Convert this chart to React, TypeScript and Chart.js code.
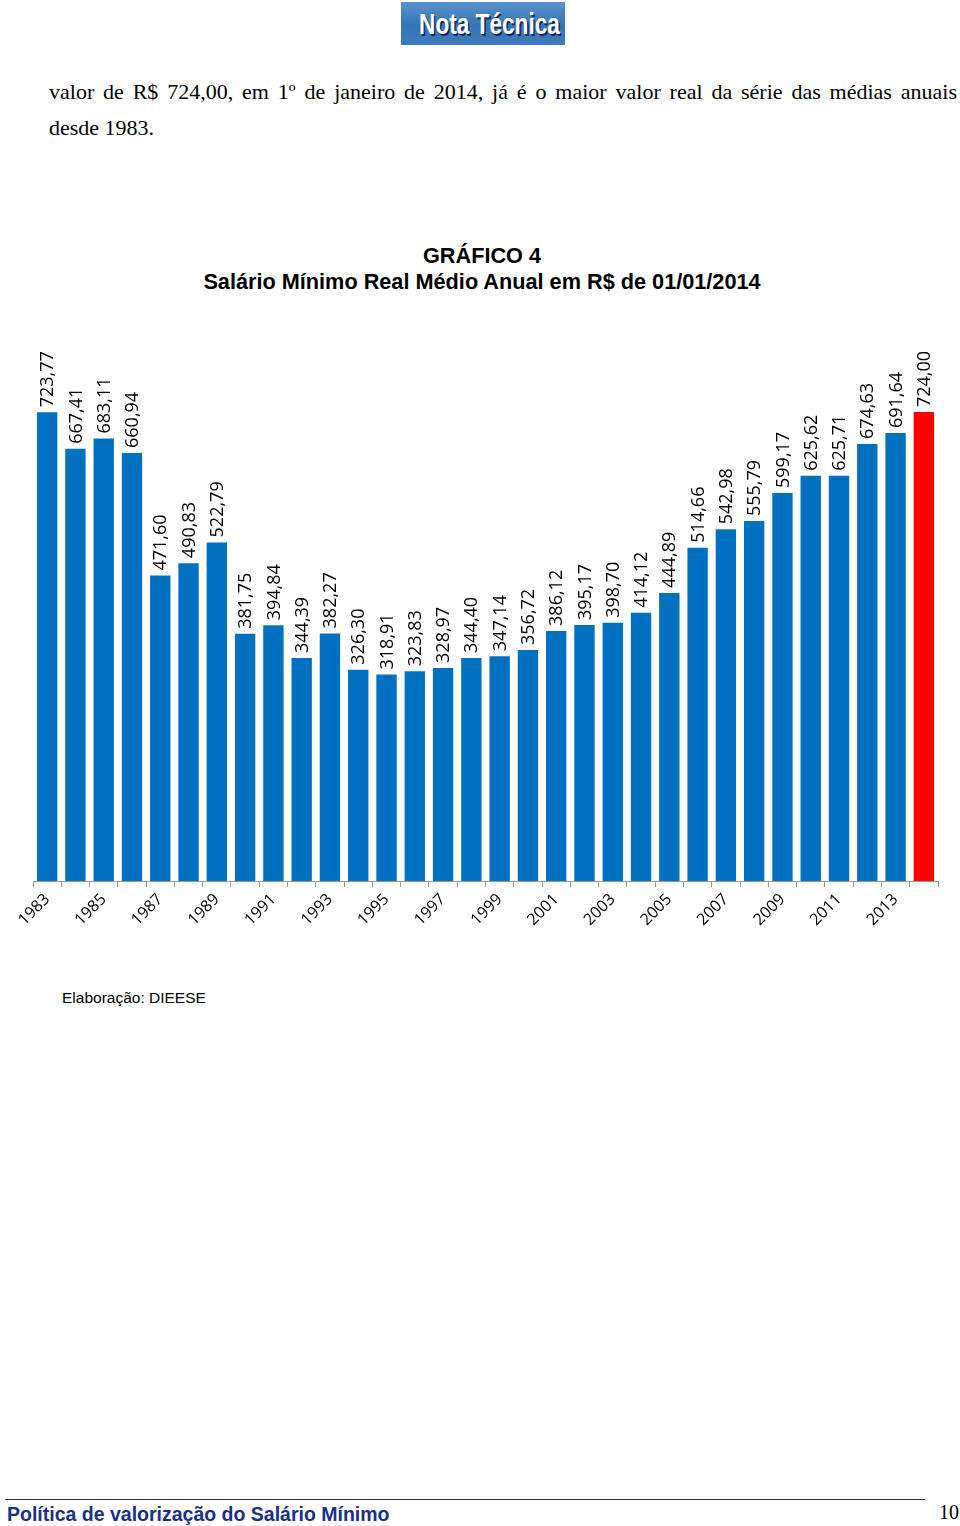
import React, { useEffect, useRef } from "react";
import { Chart, registerables } from "chart.js";

Chart.register(...registerables);

const years: string[] = [
  "1983", "1984", "1985", "1986", "1987", "1988", "1989", "1990",
  "1991", "1992", "1993", "1994", "1995", "1996", "1997", "1998",
  "1999", "2000", "2001", "2002", "2003", "2004", "2005", "2006",
  "2007", "2008", "2009", "2010", "2011", "2012", "2013", "2014",
];

const salaries: number[] = [
  723.77, 667.41, 683.11, 660.94, 471.6, 490.83, 522.79, 381.75,
  394.84, 344.39, 382.27, 326.3, 318.91, 323.83, 328.97, 344.4,
  347.14, 356.72, 386.12, 395.17, 398.7, 414.12, 444.89, 514.66,
  542.98, 555.79, 599.17, 625.62, 625.71, 674.63, 691.64, 724.0,
];

const BLUE = "#0070C0";
const RED = "#FF0000";

const fmt = (v: number) => v.toFixed(2).replace(".", ",");

const labelPlugin = {
  id: "barLabels",
  afterDatasetsDraw(chart: any) {
    const ctx = chart.ctx;
    const meta = chart.getDatasetMeta(0);
    ctx.save();
    ctx.fillStyle = "#000";
    ctx.font = "18px 'Open Sans'";
    ctx.textAlign = "left";
    ctx.textBaseline = "middle";
    meta.data.forEach((bar: any, i: number) => {
      ctx.save();
      ctx.translate(bar.x + 1, bar.y - 5);
      ctx.rotate(-Math.PI / 2);
      ctx.fillText(fmt(salaries[i]), 0, 0);
      ctx.restore();
    });
    ctx.restore();
  },
};

function SalaryChart() {
  const ref = useRef<HTMLCanvasElement | null>(null);
  useEffect(() => {
    if (!ref.current) return;
    const chart = new Chart(ref.current, {
      type: "bar",
      data: {
        labels: years,
        datasets: [
          {
            data: salaries,
            backgroundColor: salaries.map((_, i) => (i === salaries.length - 1 ? RED : BLUE)),
            barPercentage: 0.72,
            categoryPercentage: 1,
          },
        ],
      },
      options: {
        animation: false,
        responsive: false,
        maintainAspectRatio: false,
        layout: { padding: { left: 33, right: 22, top: 27, bottom: 0 } },
        plugins: {
          legend: { display: false },
          tooltip: { enabled: false },
          title: { display: false },
        },
        scales: {
          x: {
            grid: {
              offset: true,
              drawOnChartArea: false,
              drawTicks: true,
              tickLength: 6,
              color: "#9a9a9a",
            },
            border: { display: true, color: "#9a9a9a" },
            ticks: {
              autoSkip: false,
              maxRotation: 45,
              minRotation: 45,
              padding: 3,
              color: "#000",
              font: { family: "'Open Sans'", size: 16 },
              callback: (_v: any, i: number) => (i % 2 === 0 ? years[i] : ""),
            },
            afterFit: (scale: any) => {
              scale.height = 60;
            },
          },
          y: {
            display: false,
            min: 0,
            max: 840,
          },
        },
      },
      plugins: [labelPlugin],
    });
    return () => chart.destroy();
  }, []);
  return <canvas ref={ref} width={960} height={631} style={{ display: "block" }} />;
}

export default function App() {
  return (
    <div style={{ position: "relative", width: 960, height: 1526, background: "#fff", overflow: "hidden" }}>
      <style>{`html,body{margin:0;padding:0;overflow:hidden;}`}</style>
      <div
        style={{
          position: "absolute",
          left: 401,
          top: 2,
          width: 164,
          height: 43,
          background: "linear-gradient(180deg, #5b93cc 0%, #3574b6 55%, #3e7cbd 100%)",
          overflow: "hidden",
        }}
      >
        <div
          style={{
            position: "absolute",
            left: 0,
            top: 2,
            width: 164,
            textAlign: "center",
            whiteSpace: "nowrap",
            color: "#fff",
            fontFamily: "'Liberation Sans', Arial, sans-serif",
            fontWeight: 700,
            fontSize: 29,
            lineHeight: "40px",
            textShadow: "2px 2px 0 #1a2a55",
            transform: "scaleX(0.78)",
          }}
        >
          Nota Técnica
        </div>
      </div>
      <div
        style={{
          position: "absolute",
          left: 49,
          top: 74,
          width: 908,
          fontFamily: "'Liberation Serif', 'Times New Roman', serif",
          fontSize: 22,
          lineHeight: "36px",
          color: "#000",
        }}
      >
        <div style={{ textAlign: "justify", textAlignLast: "justify", whiteSpace: "nowrap" }}>
          valor de R$ 724,00, em 1º de janeiro de 2014, já é o maior valor real da série das médias anuais
        </div>
        <div>desde 1983.</div>
      </div>
      <div
        style={{
          position: "absolute",
          left: 0,
          top: 243,
          width: 964,
          textAlign: "center",
          fontFamily: "'Liberation Sans', Arial, sans-serif",
          fontWeight: 700,
          fontSize: 21.7,
          lineHeight: "26px",
          color: "#000",
        }}
      >
        <div>GRÁFICO 4</div>
        <div>Salário Mínimo Real Médio Anual em R$ de 01/01/2014</div>
      </div>
      <div style={{ position: "absolute", left: 0, top: 310 }}>
        <SalaryChart />
      </div>
      <div
        style={{
          position: "absolute",
          left: 62,
          top: 989,
          fontFamily: "'Liberation Sans', Arial, sans-serif",
          fontSize: 15.5,
          color: "#000",
        }}
      >
        Elaboração: DIEESE
      </div>
      <div style={{ position: "absolute", left: 5, top: 1499, width: 920, height: 1, background: "#333" }} />
      <div
        style={{
          position: "absolute",
          left: 7,
          top: 1502,
          fontFamily: "'Liberation Sans', Arial, sans-serif",
          fontWeight: 700,
          fontSize: 19.5,
          lineHeight: "24px",
          color: "#1a2f8a",
        }}
      >
        Política de valorização do Salário Mínimo
      </div>
      <div
        style={{
          position: "absolute",
          left: 939,
          top: 1500,
          fontFamily: "'Liberation Serif', 'Times New Roman', serif",
          fontSize: 20,
          lineHeight: "24px",
          color: "#000",
        }}
      >
        10
      </div>
    </div>
  );
}
